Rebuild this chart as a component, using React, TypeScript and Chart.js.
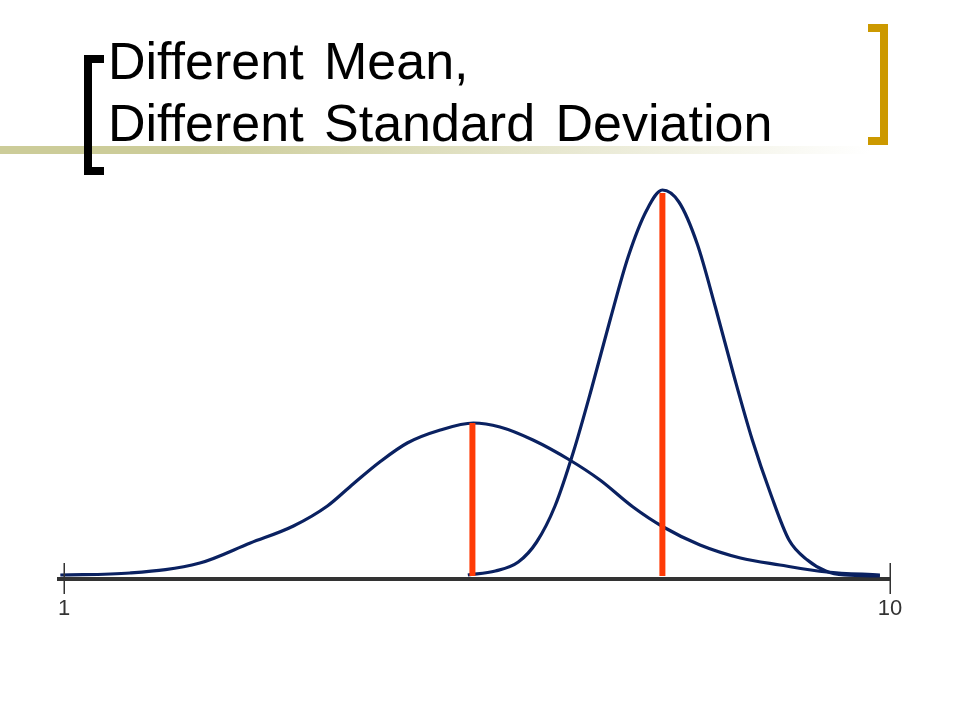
import React, { useEffect, useRef } from "react";
import { Chart, registerables } from "chart.js";

Chart.register(...registerables);

const TITLE_LINES = ["Different Mean,", "Different Standard Deviation"];
const X_TICKS = [1, 10];

// wide distribution (smaller peak, larger spread)
const WIDE_X = [0.96, 1.72, 2.48, 3.03, 3.5, 3.87, 4.15, 4.44, 4.74, 5.1, 5.46, 5.75, 6.11, 6.51, 6.84, 7.2, 7.53, 7.93, 8.37, 8.8, 9.31, 9.89];
const WIDE_Y = [0.1, 0.3, 1.3, 3.3, 5.0, 7.0, 9.2, 11.4, 13.3, 14.6, 15.3, 14.9, 13.6, 11.6, 9.6, 6.9, 4.9, 3.1, 1.8, 1.1, 0.4, 0.1];

// narrow distribution (tall peak, small spread)
const NARROW_X = [5.4, 5.7, 5.95, 6.15, 6.35, 6.55, 6.75, 6.95, 7.15, 7.35, 7.52, 7.7, 7.9, 8.1, 8.3, 8.5, 8.7, 8.9, 9.1, 9.3, 9.5, 9.89];
const NARROW_Y = [0.1, 0.5, 1.4, 3.4, 7.0, 12.4, 18.8, 25.6, 32.0, 36.6, 38.6, 37.4, 33.2, 26.8, 20.0, 13.6, 8.2, 3.6, 1.6, 0.5, 0.1, 0.0];

const MEANS = [5.45, 7.52];
const MEAN_HEIGHTS = [15.3, 38.3];

const NAVY = "#0a2161";
const RED = "#ff3b06";
const AXIS = "#333333";
const FONT = '"Liberation Sans", Arial, sans-serif';

const tickMarks = {
  id: "tickMarks",
  afterDraw(chart: any) {
    const x = chart.scales.x;
    const bottom = chart.chartArea.bottom;
    const ctx = chart.ctx;
    ctx.save();
    ctx.strokeStyle = AXIS;
    ctx.lineWidth = 1.5;
    x.ticks.forEach((t: any) => {
      const px = Math.round(x.getPixelForValue(t.value)) + 0.25;
      ctx.beginPath();
      ctx.moveTo(px, bottom - 16);
      ctx.lineTo(px, bottom + 15);
      ctx.stroke();
    });
    ctx.restore();
  },
};

export default function App() {
  const ref = useRef<HTMLCanvasElement | null>(null);

  useEffect(() => {
    if (!ref.current) return;
    const meanSets = MEANS.map((m, i) => ({
      label: "mean " + (i + 1),
      data: [
        { x: m, y: 0 },
        { x: m, y: MEAN_HEIGHTS[i] },
      ],
      borderColor: RED,
      borderWidth: 6,
      borderCapStyle: "butt",
      pointRadius: 0,
      fill: false,
      order: 0,
    }));
    const curve = (label: string, xs: number[], ys: number[]) => ({
      label,
      data: xs.map((x, i) => ({ x, y: ys[i] })),
      borderColor: NAVY,
      borderWidth: 3.2,
      pointRadius: 0,
      fill: false,
      cubicInterpolationMode: "monotone",
      order: 1,
    });
    const chart = new Chart(ref.current, {
      type: "line",
      data: {
        datasets: [
          ...meanSets,
          curve("wide", WIDE_X, WIDE_Y),
          curve("narrow", NARROW_X, NARROW_Y),
        ] as any,
      },
      options: {
        animation: false,
        responsive: false,
        layout: { padding: { left: 58.5, right: 70, top: 16, bottom: 0 } },
        plugins: { legend: { display: false }, tooltip: { enabled: false } },
        scales: {
          x: {
            type: "linear",
            min: 0.94,
            max: 10,
            afterBuildTicks: (s: any) => {
              s.ticks = X_TICKS.map((v) => ({ value: v }));
            },
            afterFit: (s: any) => {
              s.height = 61;
            },
            grid: { display: false, drawTicks: false },
            border: { display: true, color: AXIS, width: 4 },
            ticks: {
              color: AXIS,
              font: { family: FONT, size: 22 },
              padding: 17,
              autoSkip: false,
              maxRotation: 0,
            },
          },
          y: { type: "linear", display: false, min: -0.3, max: 40 },
        },
      } as any,
      plugins: [tickMarks],
    });
    return () => chart.destroy();
  }, []);

  return (
    <div
      style={{
        position: "fixed",
        left: 0,
        top: 0,
        width: 960,
        height: 720,
        background: "#ffffff",
        overflow: "hidden",
      }}
    >
      <div
        style={{
          position: "absolute",
          left: 0,
          top: 146,
          width: 870,
          height: 8,
          background: "linear-gradient(to right, #cccc99 0%, #cccc99 22%, rgba(255,255,255,0) 100%)",
        }}
      />
      <div style={{ position: "absolute", left: 84, top: 55, width: 8, height: 120, background: "#000" }} />
      <div style={{ position: "absolute", left: 84, top: 55, width: 20, height: 8, background: "#000" }} />
      <div style={{ position: "absolute", left: 84, top: 167, width: 20, height: 8, background: "#000" }} />
      <div style={{ position: "absolute", left: 880, top: 24, width: 8, height: 121, background: "#cc9900" }} />
      <div style={{ position: "absolute", left: 868, top: 24, width: 20, height: 8, background: "#cc9900" }} />
      <div style={{ position: "absolute", left: 868, top: 137, width: 20, height: 8, background: "#cc9900" }} />
      <div
        style={{
          position: "absolute",
          left: 108,
          top: 30,
          fontFamily: FONT,
          fontSize: 52,
          lineHeight: "62px",
          color: "#000",
          wordSpacing: 6,
          whiteSpace: "nowrap",
        }}
      >
        {TITLE_LINES[0]}
        <br />
        {TITLE_LINES[1]}
      </div>
      <canvas
        ref={ref}
        width={960}
        height={480}
        style={{ position: "absolute", left: 0, top: 160, width: 960, height: 480, display: "block" }}
      />
    </div>
  );
}
